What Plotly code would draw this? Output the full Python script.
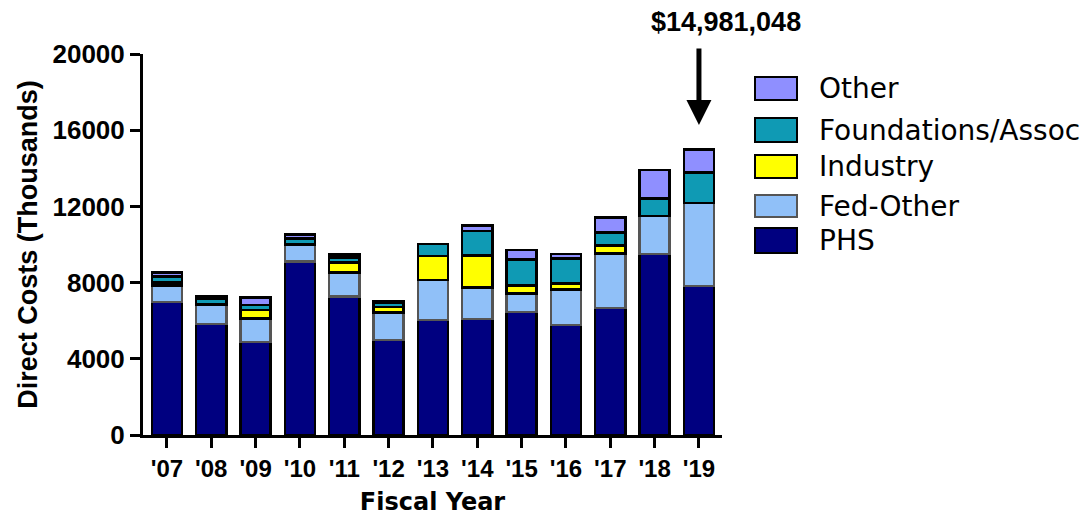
import plotly.graph_objects as go

# fiscal years and funding source values (thousands of dollars)
years = ["'07", "'08", "'09", "'10", "'11", "'12", "'13",
         "'14", "'15", "'16", "'17", "'18", "'19"]
phs = [6970, 5830, 4870, 9100, 7260, 4990, 6040, 6090, 6460, 5770, 6680, 9500, 7820]
fed_other = [870, 990, 1255, 910, 1260, 1450, 2100, 1660, 980, 1875, 2860, 2000, 4370]
industry = [160, 60, 435, 0, 525, 280, 1260, 1660, 400, 315, 400, 0, 0]
foundations = [315, 250, 262, 315, 262, 210, 615, 1310, 1385, 1310, 685, 925, 1600]
other = [210, 140, 385, 210, 180, 70, 0, 265, 490, 230, 785, 1485, 1191]

total_2019 = "$14,981,048"

series = [
    ("PHS", phs, "#000080", "#000000"),
    ("Fed-Other", fed_other, "#90C0F8", "#555555"),
    ("Industry", industry, "#FFFF00", "#000000"),
    ("Foundations/Assoc", foundations, "#0F9AB4", "#000000"),
    ("Other", other, "#8F8FFF", "#000000"),
]

# the page puts the figure 8px in from the top-left corner
OFF = 8
W, H = 1092 - OFF, 516 - OFF
# plot area in screen pixels
L, R, T, B = 143, 722, 54, 435


def px_x(p):
    return (p - L) / (R - L)


def px_y(p):
    return (B - p) / (B - T)


fig = go.Figure()
for name, vals, color, edge in series:
    fig.add_trace(go.Bar(name=name, x=years, y=vals,
                         marker=dict(color=color, line=dict(color=edge, width=2.5)),
                         showlegend=False))

# hand made legend with larger swatches, top to bottom
legend_rows = [("Other", 77, 100), ("Foundations/Assoc", 118, 142),
               ("Industry", 155, 178), ("Fed-Other", 195, 217), ("PHS", 228, 253)]
styles = {s[0]: (s[2], s[3]) for s in series}
for name, top, bot in legend_rows:
    color, edge = styles[name]
    fig.add_shape(type="rect", xref="paper", yref="paper",
                  x0=px_x(755), x1=px_x(797), y0=px_y(bot), y1=px_y(top),
                  fillcolor=color, line=dict(color=edge, width=2))
    fig.add_annotation(xref="paper", yref="paper", x=px_x(817), y=px_y((top + bot) / 2),
                       text=name, showarrow=False, xanchor="left", yanchor="middle",
                       font=dict(family="DejaVu Sans", size=28, color="black"))

# total label and arrow for 2019
fig.add_annotation(xref="paper", yref="paper", x=px_x(726), y=px_y(22),
                   xanchor="center", yanchor="middle",
                   text=total_2019, showarrow=False,
                   font=dict(family="Liberation Sans", size=27, color="black", weight="bold"))
fig.add_annotation(x="'19", y=16270, text="", showarrow=True, ax=0, ay=-78,
                   arrowhead=2, arrowwidth=5, arrowsize=1, arrowcolor="black")

fig.update_layout(
    barmode="stack",
    bargap=0.32,
    width=W, height=H,
    margin=dict(l=L - OFF, r=1092 - R, t=T - OFF, b=516 - B, autoexpand=False),
    plot_bgcolor="white", paper_bgcolor="white",
    font=dict(family="Liberation Sans", color="black"),
)
fig.update_xaxes(range=[-0.54, 12.52], showline=True, linewidth=3, linecolor="black",
                 ticks="outside", ticklen=10, tickwidth=3, tickcolor="black",
                 tickfont=dict(family="Liberation Sans", size=24, weight="bold"),
                 title=dict(text="Fiscal Year", standoff=19,
                            font=dict(family="DejaVu Sans", size=24, weight="bold")))
fig.update_yaxes(range=[0, 20000], dtick=4000, showline=True, linewidth=3,
                 linecolor="black", showgrid=False, zeroline=False,
                 ticks="outside", ticklen=10, tickwidth=3, tickcolor="black",
                 tickformat="d",
                 tickfont=dict(family="Liberation Sans", size=26, weight="bold"),
                 title=dict(text="Direct Costs (Thousands)", standoff=8,
                            font=dict(family="Liberation Sans", size=27, weight="bold")))

fig.write_html("out.html")
